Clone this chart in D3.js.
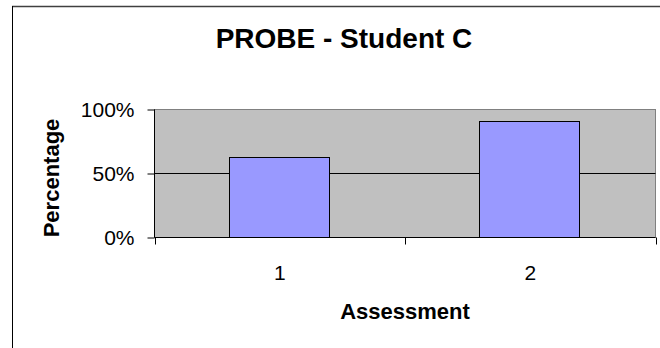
<!DOCTYPE html>
<html>
<head>
<meta charset="utf-8">
<script src="https://cdn.jsdelivr.net/npm/d3@7"></script>
<style>
  body { margin: 0; background: #fff; }
  svg { display: block; font-family: "Liberation Sans", Arial, sans-serif; }
</style>
</head>
<body>
<div id="chart"></div>
<script>
const categories = ["1", "2"];
const percentages = [0.62, 0.90];
const yTicks = [0, 0.5, 1];
const chartTitle = "PROBE - Student C";
const xTitle = "Assessment";
const yTitle = "Percentage";

const width = 660, height = 348;
const plot = {left: 154.5, right: 655.5, top: 109.5, bottom: 237.5};

const svg = d3.select("#chart").append("svg")
  .attr("width", width)
  .attr("height", height);

// outer chart border (only top and left visible in the crop)
svg.append("line")
  .attr("x1", 12).attr("x2", width).attr("y1", 6.5).attr("y2", 6.5)
  .attr("stroke", "#404040").attr("stroke-width", 1.5);
svg.append("line")
  .attr("x1", 12.5).attr("x2", 12.5).attr("y1", 6).attr("y2", height)
  .attr("stroke", "#000");

const x = d3.scaleBand()
  .domain(categories)
  .range([plot.left, plot.right])
  .paddingInner(0.6)
  .paddingOuter(0.3);

const y = d3.scaleLinear()
  .domain([0, 1])
  .range([plot.bottom, plot.top]);

// plot area
svg.append("rect")
  .attr("x", plot.left).attr("y", plot.top)
  .attr("width", plot.right - plot.left)
  .attr("height", plot.bottom - plot.top)
  .attr("fill", "#c0c0c0")
  .attr("stroke", "#808080");

// gridlines
svg.append("g")
  .selectAll("line")
  .data(yTicks.filter(d => d > 0 && d < 1))
  .enter().append("line")
  .attr("x1", plot.left).attr("x2", plot.right)
  .attr("y1", d => y(d)).attr("y2", d => y(d))
  .attr("stroke", "#000");

// bars
svg.append("g")
  .selectAll("rect")
  .data(categories)
  .enter().append("rect")
  .attr("x", d => Math.round(x(d)) - 0.5)
  .attr("y", (d, i) => Math.round(y(percentages[i])) - 0.5)
  .attr("width", Math.round(x.bandwidth()))
  .attr("height", (d, i) => plot.bottom - Math.round(y(percentages[i])) + 0.5)
  .attr("fill", "#9999ff")
  .attr("stroke", "#000");

// y axis
const yAxis = svg.append("g")
  .attr("transform", `translate(${plot.left},0)`)
  .call(d3.axisLeft(y).tickValues(yTicks).tickFormat(d3.format(".0%")).tickSize(7).tickPadding(13));
yAxis.select(".domain").attr("stroke", "#000").attr("d", `M0,${plot.top}V${plot.bottom}`);
yAxis.selectAll("text").attr("font-size", 21).attr("fill", "#000")
  .attr("font-family", "'Liberation Sans', Arial, sans-serif");

// x axis: ticks at category boundaries, labels at centres
const xAxis = svg.append("g")
  .attr("transform", `translate(0,${plot.bottom})`)
  .call(d3.axisBottom(x).tickSize(0).tickPadding(28));
xAxis.select(".domain").attr("stroke", "#000").attr("d", `M${plot.left},0H${plot.right}`);
xAxis.selectAll("text").attr("font-size", 21).attr("fill", "#000")
  .attr("font-family", "'Liberation Sans', Arial, sans-serif");

const boundaries = [plot.left, (x(categories[0]) + x.bandwidth() + x(categories[1])) / 2, plot.right];
svg.append("g")
  .selectAll("line")
  .data(boundaries)
  .enter().append("line")
  .attr("x1", d => Math.round(d) + 0.5).attr("x2", d => Math.round(d) + 0.5)
  .attr("y1", plot.bottom).attr("y2", plot.bottom + 7)
  .attr("stroke", "#000");

// titles
svg.append("text")
  .attr("x", 344).attr("y", 48)
  .attr("text-anchor", "middle")
  .attr("font-size", 28).attr("font-weight", "bold")
  .text(chartTitle);

svg.append("text")
  .attr("x", (plot.left + plot.right) / 2).attr("y", 319)
  .attr("text-anchor", "middle")
  .attr("font-size", 22).attr("font-weight", "bold")
  .text(xTitle);

svg.append("text")
  .attr("transform", "translate(59,178) rotate(-90)")
  .attr("text-anchor", "middle")
  .attr("font-size", 22).attr("font-weight", "bold")
  .text(yTitle);
</script>
</body>
</html>
